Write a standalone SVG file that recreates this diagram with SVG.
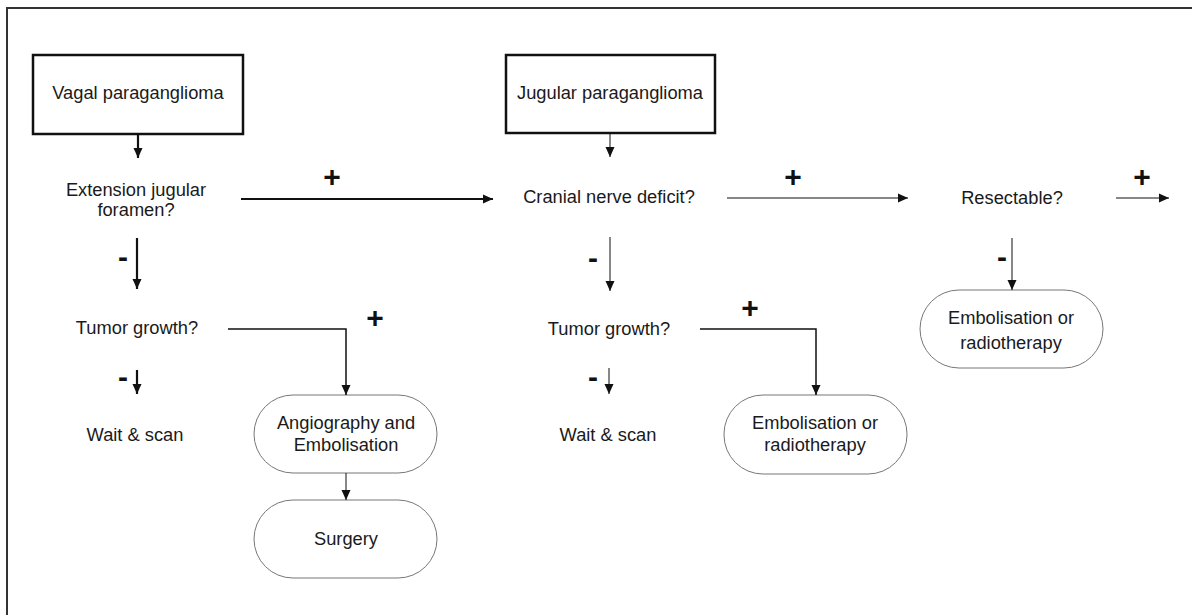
<svg xmlns="http://www.w3.org/2000/svg" width="1192" height="615" viewBox="0 0 1192 615">
<style>
text{font-family:"Liberation Sans",Arial,sans-serif;font-size:18.3px;fill:#1a1a1a;text-anchor:middle}
.sign{font-weight:bold;font-size:30px;fill:#111}
.box{fill:#fff;stroke:#111;stroke-width:2.5}
.term{fill:#fff;stroke:#777;stroke-width:1}
.c{fill:none;stroke:#111}
.thick{stroke-width:2.2}
.mid{stroke-width:1.5}
.thin{stroke-width:1}
</style>
<defs>
<marker id="ah" markerUnits="userSpaceOnUse" markerWidth="12" markerHeight="12" viewBox="0 0 12 12" refX="11" refY="6" orient="auto">
<path d="M1,1.5 L11,6 L1,10.5 Z" fill="#111"/>
</marker>
</defs>
<rect width="1192" height="615" fill="#fff"/>
<path d="M7,615 V8 H1192" fill="none" stroke="#333" stroke-width="2"/>

<g id="vagal"><rect class="box" x="33" y="55" width="210" height="79"/><text x="138" y="99">Vagal paraganglioma</text></g>
<g id="jugular"><rect class="box" x="506" y="55" width="209" height="78"/><text x="610" y="99">Jugular paraganglioma</text></g>
<g id="extension"><text x="136" y="196">Extension jugular</text><text x="136" y="216">foramen?</text></g>
<g id="cranial"><text x="609" y="203">Cranial nerve deficit?</text></g>
<g id="resectable"><text x="1012" y="204">Resectable?</text></g>
<g id="tumor1"><text x="137" y="334">Tumor growth?</text></g>
<g id="tumor2"><text x="609" y="335">Tumor growth?</text></g>
<g id="wait1"><text x="135" y="441">Wait &amp; scan</text></g>
<g id="wait2"><text x="608" y="441">Wait &amp; scan</text></g>
<g id="angio"><rect class="term" x="254" y="395" width="183" height="78" rx="39"/><text x="346" y="429">Angiography and</text><text x="346" y="451">Embolisation</text></g>
<g id="surgery"><rect class="term" x="254" y="500" width="183" height="78" rx="39"/><text x="346" y="545">Surgery</text></g>
<g id="emb2"><rect class="term" x="724" y="395" width="183" height="79" rx="39"/><text x="815" y="429">Embolisation or</text><text x="815" y="451">radiotherapy</text></g>
<g id="emb3"><rect class="term" x="920" y="290" width="183" height="78" rx="39"/><text x="1011" y="324">Embolisation or</text><text x="1011" y="349">radiotherapy</text></g>

<g id="connectors">
<path class="c thick" d="M138,134 V158" marker-end="url(#ah)"/>
<path class="c thick" d="M241,199 H493" marker-end="url(#ah)"/>
<path class="c thin" d="M610,133 V157" marker-end="url(#ah)"/>
<path class="c thin" d="M727,198 H908" marker-end="url(#ah)"/>
<path class="c thin" d="M1116,198 H1169" marker-end="url(#ah)"/>
<path class="c thin" d="M1012,238 V290" marker-end="url(#ah)"/>
<path class="c thick" d="M137,238 V289" marker-end="url(#ah)"/>
<path class="c thick" d="M137,370 V394" marker-end="url(#ah)"/>
<path class="c mid" d="M228,329 H346 V395" marker-end="url(#ah)"/>
<path class="c thin" d="M346,473 V500" marker-end="url(#ah)"/>
<path class="c thin" d="M610,237 V291" marker-end="url(#ah)"/>
<path class="c thin" d="M609,368 V394" marker-end="url(#ah)"/>
<path class="c mid" d="M700,329 H816 V395" marker-end="url(#ah)"/>
<text class="sign" x="332" y="187">+</text>
<text class="sign" x="793" y="187">+</text>
<text class="sign" x="1142" y="187">+</text>
<text class="sign" x="375" y="328">+</text>
<text class="sign" x="750" y="318">+</text>
<text class="sign" x="123" y="267">-</text>
<text class="sign" x="123" y="387">-</text>
<text class="sign" x="593" y="268">-</text>
<text class="sign" x="593" y="387">-</text>
<text class="sign" x="1002" y="267">-</text>
</g>
</svg>
